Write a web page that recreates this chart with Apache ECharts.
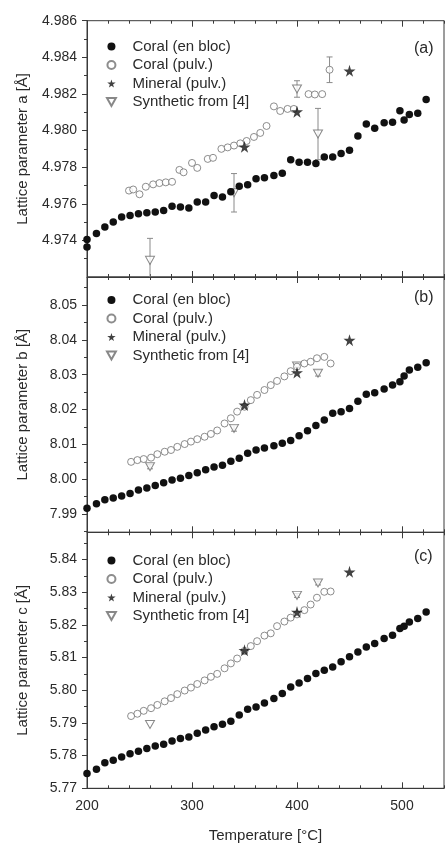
<!DOCTYPE html>
<html><head><meta charset="utf-8">
<script src="https://cdn.jsdelivr.net/npm/echarts@6/dist/echarts.min.js"></script>
<style>html,body{margin:0;padding:0;background:#fff}#c{width:446px;height:848px}</style>
</head><body><div id="c"></div>
<script>
// ---------- data ----------
const seriesNames = ['Coral (en bloc)', 'Coral (pulv.)', 'Mineral (pulv.)', 'Synthetic from [4]'];
const panelLabels = ['(a)', '(b)', '(c)'];
const yTitles = ['Lattice parameter a [\u00C5]', 'Lattice parameter b [\u00C5]', 'Lattice parameter c [\u00C5]'];
const xTitle = 'Temperature [\u00B0C]';

const xTickLabels = [200, 300, 400, 500];
const yTicksA = [4.974, 4.976, 4.978, 4.980, 4.982, 4.984, 4.986];
const yTicksB = [7.99, 8.00, 8.01, 8.02, 8.03, 8.04, 8.05];
const yTicksC = [5.77, 5.78, 5.79, 5.80, 5.81, 5.82, 5.83, 5.84];

const blocTempA = [200,200,209,217,225,233,241,249,257,265,273,281,289,297,305,313,321,329,337,345,353,361,369,378,386,394,402,410,418,426,434,442,450,458,466,474,483,491,498,502,507,515,523];
const blocA = [4.97364,4.97405,4.97437,4.97473,4.97500,4.97528,4.97536,4.97546,4.97551,4.97555,4.97563,4.97587,4.97582,4.97577,4.97609,4.97609,4.97645,4.97637,4.97665,4.97696,4.97704,4.97736,4.97742,4.97754,4.97767,4.97841,4.97827,4.97827,4.97820,4.97855,4.97856,4.97875,4.97892,4.97970,4.98036,4.98012,4.98042,4.98045,4.98108,4.98058,4.98088,4.98095,4.98170];

const blocTemp = [200,209,217,225,233,241,249,257,265,273,281,289,297,305,313,321,329,337,345,353,361,369,378,386,394,402,410,418,426,434,442,450,458,466,474,483,491,498,502,507,515,523];
const blocB = [7.9917,7.9930,7.9941,7.9946,7.9952,7.9959,7.9969,7.9975,7.9982,7.9990,7.9998,8.0003,8.0011,8.0019,8.0027,8.0035,8.0040,8.0052,8.0060,8.0075,8.0084,8.0090,8.0096,8.0103,8.0111,8.0125,8.0139,8.0154,8.0170,8.0189,8.0194,8.0203,8.0224,8.0244,8.0248,8.0259,8.0270,8.0280,8.0296,8.0313,8.0321,8.0334];
const blocC = [5.7745,5.7758,5.7778,5.7786,5.7796,5.7806,5.7813,5.7822,5.7829,5.7835,5.7845,5.7852,5.7857,5.7868,5.7878,5.7888,5.7896,5.7905,5.7924,5.7942,5.7949,5.7961,5.7975,5.7990,5.8010,5.8022,5.8036,5.8051,5.8061,5.8071,5.8087,5.8102,5.8117,5.8132,5.8143,5.8158,5.8168,5.8189,5.8196,5.8209,5.8219,5.8239];

const pulvTempA = [240,244,250,256,263,269,275,281,288,292,300,305,315,320,328,334,340,346,352,359,365,371,378,384,391,397,411,417,424,431];
const pulvA = [4.97672,4.97678,4.97652,4.97693,4.97706,4.97713,4.97717,4.97720,4.97785,4.97772,4.97823,4.97796,4.97845,4.97851,4.97900,4.97908,4.97918,4.97930,4.97943,4.97965,4.97987,4.98025,4.98132,4.98107,4.98118,4.98118,4.98199,4.98197,4.98199,4.98332];
const pulvErrTempA = [431];
const pulvErrValA = [4.98332];
const pulvErrA = [0.0007];

const pulvTemp = [242,248,254,261,267,274,280,286,293,299,305,312,318,324,331,337,343,350,356,362,369,375,381,388,394,400,407,413,419,426,432];
const pulvB = [8.0050,8.0055,8.0058,8.0062,8.0072,8.0079,8.0084,8.0093,8.0101,8.0108,8.0115,8.0122,8.0130,8.0140,8.0160,8.0175,8.0194,8.0208,8.0227,8.0242,8.0256,8.0270,8.0282,8.0295,8.0310,8.0323,8.0332,8.0337,8.0347,8.0351,8.0332];
const pulvC = [5.7921,5.7928,5.7937,5.7945,5.7955,5.7966,5.7976,5.7988,5.7999,5.8008,5.8019,5.8030,5.8041,5.8050,5.8067,5.8082,5.8097,5.8120,5.8135,5.8150,5.8167,5.8174,5.8196,5.8210,5.8222,5.8232,5.8245,5.8262,5.8283,5.8301,5.8302];

const mineralTemp = [350, 400, 450];
const mineralA = [4.97911, 4.98103, 4.98326];
const mineralB = [8.0213, 8.0306, 8.0399];
const mineralC = [5.8122, 5.8239, 5.8362];

const synthTempA = [260, 340, 400, 420];
const synthA = [4.97291, 4.97660, 4.98227, 4.97981];
const synthErrA = [0.0012, 0.00105, 0.00045, 0.0014];
const synthTempB = [260, 340, 400, 420];
const synthB = [8.0036, 8.0146, 8.0325, 8.0304];
const synthErrB = [0.0006, 0.0008, 0.0005, 0.0008];
const synthTempC = [260, 400, 420];
const synthC = [5.7895, 5.8290, 5.8328];
const synthErrC = [0, 0.0006, 0.0006];

// ---------- chart ----------
const zip = (xs, ys) => xs.map((x, i) => [x, ys[i]]);
const zip3 = (xs, ys, es) => xs.map((x, i) => [x, ys[i], es[i]]);

const panels = [
  { top: 20.7, height: 256.3, yMin: 4.972, yMax: 4.986, yTicks: yTicksA, step: 0.002, dec: 3,
    bloc: zip(blocTempA, blocA), pulv: zip(pulvTempA, pulvA), mineral: zip(mineralTemp, mineralA),
    synth: zip(synthTempA, synthA), errs: zip3(synthTempA, synthA, synthErrA).concat(zip3(pulvErrTempA, pulvErrValA, pulvErrA)),
    legendTop: 34, labelTop: 41 },
  { top: 277, height: 255.3, yMin: 7.9848, yMax: 8.0580, yTicks: yTicksB, step: 0.01, dec: 2,
    bloc: zip(blocTemp, blocB), pulv: zip(pulvTemp, pulvB), mineral: zip(mineralTemp, mineralB),
    synth: zip(synthTempB, synthB), errs: zip3(synthTempB, synthB, synthErrB),
    legendTop: 287.5, labelTop: 290 },
  { top: 532.3, height: 256, yMin: 5.77, yMax: 5.8483, yTicks: yTicksC, step: 0.01, dec: 2,
    bloc: zip(blocTemp, blocC), pulv: zip(pulvTemp, pulvC), mineral: zip(mineralTemp, mineralC),
    synth: zip(synthTempC, synthC), errs: zip3(synthTempC, synthC, synthErrC),
    legendTop: 548, labelTop: 549 }
];

const FONT = 'Liberation Sans';
const AX = '#3a3a3a';
const TXT = '#2a2a2a';
const STAR = 'path://M50,0 L61,35 L98,35 L68,57 L79,91 L50,70 L21,91 L32,57 L2,35 L39,35 Z';
const TRI = 'path://M0,0 L10,0 L5,9 Z';

const xMajor = [200, 300, 400, 500];
const xMinor = [];
for (let v = 220; v <= 540; v += 20) if (v % 100 !== 0) xMinor.push(v);

const grid = [], xAxis = [], yAxis = [], series = [], legend = [], graphic = [];

panels.forEach((p, i) => {
  grid.push({ left: 87, right: 2, top: p.top, height: p.height, show: true, borderColor: AX, borderWidth: 1, backgroundColor: 'transparent' });
  const last = i === 2;
  const xBase = { type: 'value', gridIndex: i, min: 200, max: 540, splitLine: { show: false }, axisLine: { show: false } };
  xAxis.push(Object.assign({}, xBase, {
    position: 'bottom',
    axisLine: { show: true, lineStyle: { color: AX, width: 1 } },
    axisTick: { show: true, inside: true, length: 6, customValues: xMajor, lineStyle: { color: AX } },
    axisLabel: { show: last, customValues: xTickLabels, color: TXT, fontFamily: FONT, fontSize: 14, margin: 11 },
    name: last ? xTitle : '', nameLocation: 'middle', nameGap: 40,
    nameTextStyle: { color: TXT, fontFamily: FONT, fontSize: 15 }
  }));
  xAxis.push(Object.assign({}, xBase, { position: 'bottom',
    axisTick: { show: true, inside: true, length: 3, customValues: xMinor, lineStyle: { color: AX } }, axisLabel: { show: false } }));
  xAxis.push(Object.assign({}, xBase, { position: 'top',
    axisTick: { show: true, inside: true, length: 6, customValues: xMajor, lineStyle: { color: AX } }, axisLabel: { show: false } }));
  xAxis.push(Object.assign({}, xBase, { position: 'top',
    axisTick: { show: true, inside: true, length: 3, customValues: xMinor, lineStyle: { color: AX } }, axisLabel: { show: false } }));

  const yMinor = [];
  for (let k = 0; k < p.yTicks.length; k++) {
    const m = +(p.yTicks[k] - p.step / 2).toFixed(6);
    if (m > p.yMin && m < p.yMax) yMinor.push(m);
  }
  const lastMinor = +(p.yTicks[p.yTicks.length - 1] + p.step / 2).toFixed(6);
  if (lastMinor < p.yMax) yMinor.push(lastMinor);

  const yBase = { type: 'value', gridIndex: i, min: p.yMin, max: p.yMax, position: 'left', splitLine: { show: false }, axisLine: { show: false } };
  yAxis.push(Object.assign({}, yBase, {
    axisLine: { show: true, lineStyle: { color: AX, width: 1 } },
    axisTick: { show: true, inside: false, length: 5, customValues: p.yTicks, lineStyle: { color: AX } },
    axisLabel: { customValues: p.yTicks, color: TXT, fontFamily: FONT, fontSize: 14, margin: 10,
      formatter: v => v.toFixed(p.dec) },
    name: yTitles[i], nameLocation: 'middle', nameRotate: 90, nameGap: 57,
    nameTextStyle: { color: TXT, fontFamily: FONT, fontSize: 15 }
  }));
  yAxis.push(Object.assign({}, yBase, {
    axisTick: { show: true, inside: false, length: 3, customValues: yMinor, lineStyle: { color: AX } }, axisLabel: { show: false } }));

  const xi = i * 4, yi = i * 2;
  series.push({
    type: 'custom', xAxisIndex: xi, yAxisIndex: yi, data: p.errs, clip: true, z: 1, silent: true,
    renderItem: (params, api) => {
      const x = api.value(0), y = api.value(1), e = api.value(2);
      if (!e) return null;
      const t = api.coord([x, y + e]), b = api.coord([x, y - e]);
      const st = { stroke: '#8a8a8a', lineWidth: 1 };
      return { type: 'group', children: [
        { type: 'line', shape: { x1: t[0], y1: t[1], x2: b[0], y2: b[1] }, style: st },
        { type: 'line', shape: { x1: t[0] - 3, y1: t[1], x2: t[0] + 3, y2: t[1] }, style: st },
        { type: 'line', shape: { x1: b[0] - 3, y1: b[1], x2: b[0] + 3, y2: b[1] }, style: st }
      ] };
    }
  });
  series.push({ name: seriesNames[3], type: 'scatter', xAxisIndex: xi, yAxisIndex: yi, data: p.synth, z: 2,
    symbol: TRI, symbolSize: [9, 8], itemStyle: { color: '#fff', borderColor: '#6a6a6a', borderWidth: 1 } });
  series.push({ name: seriesNames[1], type: 'scatter', xAxisIndex: xi, yAxisIndex: yi, data: p.pulv, z: 3,
    symbol: 'circle', symbolSize: 7, itemStyle: { color: '#fff', borderColor: '#707070', borderWidth: 1 } });
  series.push({ name: seriesNames[0], type: 'scatter', xAxisIndex: xi, yAxisIndex: yi, data: p.bloc, z: 4,
    symbol: 'circle', symbolSize: 7.5, itemStyle: { color: '#111', opacity: 1 } });
  series.push({ name: seriesNames[2], type: 'scatter', xAxisIndex: xi, yAxisIndex: yi, data: p.mineral, z: 5,
    symbol: STAR, symbolSize: 12, itemStyle: { color: '#111' } });

  legend.push({ data: seriesNames, orient: 'vertical', left: 101, top: p.legendTop, itemWidth: 32, itemHeight: 8,
    itemGap: 3.5, selectedMode: false, textStyle: { color: TXT, fontFamily: FONT, fontSize: 15, lineHeight: 15 } });

  graphic.push({ type: 'text', left: 414, top: p.labelTop,
    style: { text: panelLabels[i], fill: TXT, font: '16px "Liberation Sans"' } });
});

const chart = echarts.init(document.getElementById('c'), null, { renderer: 'canvas' });
chart.setOption({ animation: false, backgroundColor: '#fff', grid, xAxis, yAxis, series, legend, graphic });
</script>
</body></html>
